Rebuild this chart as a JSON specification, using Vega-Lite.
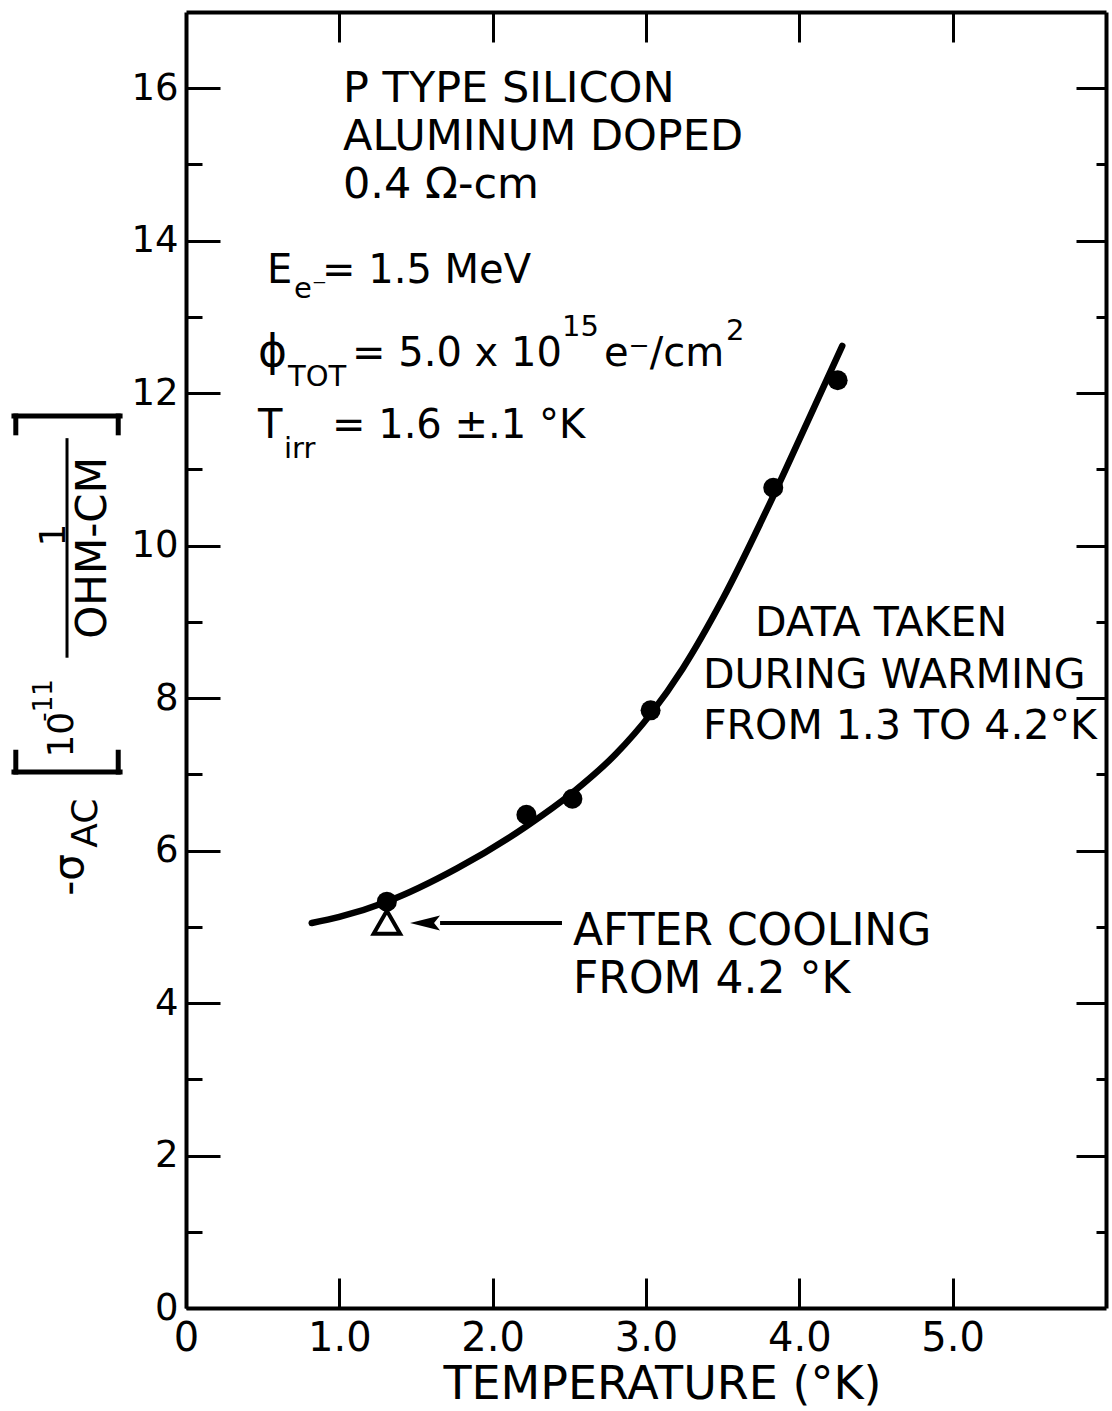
{
  "$schema": "https://vega.github.io/schema/vega-lite/v6.json",
  "width": 920,
  "height": 1296,
  "autosize": {"type": "none"},
  "padding": {"left": 186, "top": 12, "right": 6, "bottom": 103},
  "background": "white",
  "config": {"view": {"stroke": null}, "axis": {"grid": false}, "font": "DejaVu Sans"},
  "datasets": {
    "curve": [
      {"x": 0.82, "y": 5.05}, {"x": 1.0, "y": 5.13}, {"x": 1.31, "y": 5.33}, {"x": 1.77, "y": 5.77},
      {"x": 2.22, "y": 6.32}, {"x": 2.52, "y": 6.76}, {"x": 2.8, "y": 7.26}, {"x": 3.03, "y": 7.79},
      {"x": 3.24, "y": 8.39}, {"x": 3.5, "y": 9.3}, {"x": 3.83, "y": 10.65}, {"x": 4.05, "y": 11.61},
      {"x": 4.28, "y": 12.62}
    ],
    "dots": [
      {"x": 1.31, "y": 5.33}, {"x": 2.22, "y": 6.47}, {"x": 2.52, "y": 6.68},
      {"x": 3.03, "y": 7.84}, {"x": 3.83, "y": 10.76}, {"x": 4.25, "y": 12.17}
    ],
    "tri": [{"x": 1.31, "y": 5.06}],
    "shaft": [{"x": 1.657, "x2": 2.452, "y": 5.05}],
    "head": [{"x": 1.559, "y": 5.05}],
    "t43": [
      {"x": 1.024, "y": 15.82, "t": "P TYPE SILICON"},
      {"x": 1.024, "y": 15.19, "t": "ALUMINUM DOPED"},
      {"x": 1.024, "y": 14.56, "t": "0.4 Ω-cm"}
    ],
    "t40": [
      {"x": 0.528, "y": 13.44, "t": "E"},
      {"x": 0.887, "y": 13.44, "t": "= 1.5 MeV"},
      {"x": 1.083, "y": 12.36, "t": "= 5.0 x 10"},
      {"x": 2.726, "y": 12.36, "t": "e⁻/cm"},
      {"x": 0.47, "y": 11.41, "t": "T"},
      {"x": 0.952, "y": 11.41, "t": "= 1.6 ±.1 °K"}
    ],
    "tsub": [
      {"x": 0.704, "y": 13.25, "t": "e⁻"},
      {"x": 0.665, "y": 12.09, "t": "TOT"},
      {"x": 2.452, "y": 12.75, "t": "15"},
      {"x": 3.522, "y": 12.7, "t": "2"},
      {"x": 0.639, "y": 11.15, "t": "irr"}
    ],
    "tphi": [{"x": 0.47, "y": 12.36, "t": "ϕ"}],
    "t42": [
      {"x": 3.711, "y": 8.81, "t": "DATA TAKEN"},
      {"x": 3.372, "y": 8.13, "t": "DURING WARMING"},
      {"x": 3.372, "y": 7.46, "t": "FROM 1.3 TO 4.2°K"}
    ],
    "t44": [
      {"x": 2.524, "y": 4.76, "t": "AFTER COOLING"},
      {"x": 2.524, "y": 4.13, "t": "FROM 4.2 °K"}
    ],
    "ybig": [
      {"x": -0.757, "y": 5.68, "t": "-σ"}
    ],
    "ymid": [
      {"x": -0.652, "y": 6.36, "t": "AC"},
      {"x": -0.809, "y": 7.52, "t": "10"},
      {"x": -0.861, "y": 10.14, "t": "1"}
    ],
    "ywide": [
      {"x": -0.607, "y": 9.97, "t": "OHM-CM"}
    ],
    "ysup": [
      {"x": -0.926, "y": 7.97, "t": "-11"}
    ],
    "brackets": [
      {"x": -1.122, "x2": -0.43, "y": 7.03, "y2": 7.03},
      {"x": -1.11, "x2": -1.11, "y": 7.03, "y2": 7.29},
      {"x": -0.442, "x2": -0.442, "y": 7.03, "y2": 7.29},
      {"x": -1.122, "x2": -0.43, "y": 11.7, "y2": 11.7},
      {"x": -1.11, "x2": -1.11, "y": 11.7, "y2": 11.48},
      {"x": -0.442, "x2": -0.442, "y": 11.7, "y2": 11.48}
    ],
    "bar": [{"x": -0.776, "x2": -0.776, "y": 8.53, "y2": 11.41}]
  },
  "layer": [
    {
      "layer": [
        {
          "data": {"name": "curve"},
          "mark": {"type": "line", "interpolate": "monotone", "color": "black", "strokeWidth": 6.5, "strokeCap": "round"},
          "encoding": {
            "x": {"field": "x", "type": "quantitative", "scale": {"domain": [0, 6], "nice": false, "zero": false},
              "axis": {"orient": "bottom", "values": [0, 1, 2, 3, 4, 5], "tickSize": -30, "tickWidth": 3, "tickColor": "black",
                "domainColor": "black", "domainWidth": 4, "labelFontSize": 40, "labelFont": "DejaVu Sans", "labelColor": "black",
                "labelPadding": 40, "labelExpr": "datum.value == 0 ? '0' : format(datum.value, '.1f')", "labelFlush": false,
                "labelOverlap": false, "grid": false, "title": "TEMPERATURE (°K)", "titleFont": "DejaVu Sans", "titleFontSize": 46,
                "titleFontWeight": "normal", "titleColor": "black", "titlePadding": 4, "titleX": 476}},
            "y": {"field": "y", "type": "quantitative", "scale": {"domain": [0, 17], "nice": false, "zero": false},
              "axis": {"orient": "left", "values": [0, 1, 2, 3, 4, 5, 6, 7, 8, 9, 10, 11, 12, 13, 14, 15, 16],
                "tickSize": {"condition": {"test": "datum.value % 2 === 0", "value": -34}, "value": -16},
                "tickWidth": 3, "tickColor": "black", "domainColor": "black", "domainWidth": 4,
                "labelFontSize": 37, "labelFont": "DejaVu Sans", "labelColor": "black", "labelPadding": 42,
                "labelExpr": "datum.value % 2 === 0 ? format(datum.value, 'd') : ''", "labelFlush": false, "labelOverlap": false,
                "grid": false, "title": null}}
          }
        },
        {
          "data": {"name": "dots"},
          "mark": {"type": "point", "shape": "circle", "filled": true, "color": "black", "size": 400, "opacity": 1},
          "encoding": {"x": {"field": "x", "type": "quantitative"}, "y": {"field": "y", "type": "quantitative"}}
        },
        {
          "data": {"name": "tri"},
          "mark": {"type": "point", "shape": "triangle-up", "filled": false, "color": "black", "strokeWidth": 4, "size": 700, "opacity": 1},
          "encoding": {"x": {"field": "x", "type": "quantitative"}, "y": {"field": "y", "type": "quantitative"}}
        },
        {
          "data": {"name": "shaft"},
          "mark": {"type": "rule", "color": "black", "strokeWidth": 4},
          "encoding": {"x": {"field": "x", "type": "quantitative"}, "x2": {"field": "x2"}, "y": {"field": "y", "type": "quantitative"}}
        },
        {
          "data": {"name": "head"},
          "mark": {"type": "point", "shape": "M -1 0 L 1 -0.5 L 0.6 0 L 1 0.5 Z", "filled": true, "color": "black", "size": 900, "opacity": 1},
          "encoding": {"x": {"field": "x", "type": "quantitative"}, "y": {"field": "y", "type": "quantitative"}}
        },
        {
          "data": {"name": "t43"},
          "mark": {"type": "text", "align": "left", "baseline": "alphabetic", "fontSize": 43, "font": "DejaVu Sans", "color": "black"},
          "encoding": {"x": {"field": "x", "type": "quantitative"}, "y": {"field": "y", "type": "quantitative"}, "text": {"field": "t"}}
        },
        {
          "data": {"name": "t40"},
          "mark": {"type": "text", "align": "left", "baseline": "alphabetic", "fontSize": 40, "font": "DejaVu Sans", "color": "black"},
          "encoding": {"x": {"field": "x", "type": "quantitative"}, "y": {"field": "y", "type": "quantitative"}, "text": {"field": "t"}}
        },
        {
          "data": {"name": "tsub"},
          "mark": {"type": "text", "align": "left", "baseline": "alphabetic", "fontSize": 29, "font": "DejaVu Sans", "color": "black"},
          "encoding": {"x": {"field": "x", "type": "quantitative"}, "y": {"field": "y", "type": "quantitative"}, "text": {"field": "t"}}
        },
        {
          "data": {"name": "tphi"},
          "mark": {"type": "text", "align": "left", "baseline": "alphabetic", "fontSize": 44, "font": "DejaVu Sans", "color": "black"},
          "encoding": {"x": {"field": "x", "type": "quantitative"}, "y": {"field": "y", "type": "quantitative"}, "text": {"field": "t"}}
        },
        {
          "data": {"name": "t42"},
          "mark": {"type": "text", "align": "left", "baseline": "alphabetic", "fontSize": 41, "font": "DejaVu Sans", "color": "black"},
          "encoding": {"x": {"field": "x", "type": "quantitative"}, "y": {"field": "y", "type": "quantitative"}, "text": {"field": "t"}}
        },
        {
          "data": {"name": "t44"},
          "mark": {"type": "text", "align": "left", "baseline": "alphabetic", "fontSize": 44, "font": "DejaVu Sans", "color": "black"},
          "encoding": {"x": {"field": "x", "type": "quantitative"}, "y": {"field": "y", "type": "quantitative"}, "text": {"field": "t"}}
        },
        {
          "data": {"name": "ybig"},
          "mark": {"type": "text", "align": "center", "baseline": "middle", "angle": 270, "fontSize": 42, "font": "DejaVu Sans", "color": "black"},
          "encoding": {"x": {"field": "x", "type": "quantitative"}, "y": {"field": "y", "type": "quantitative"}, "text": {"field": "t"}}
        },
        {
          "data": {"name": "ymid"},
          "mark": {"type": "text", "align": "center", "baseline": "middle", "angle": 270, "fontSize": 36, "font": "DejaVu Sans", "color": "black"},
          "encoding": {"x": {"field": "x", "type": "quantitative"}, "y": {"field": "y", "type": "quantitative"}, "text": {"field": "t"}}
        },
        {
          "data": {"name": "ywide"},
          "mark": {"type": "text", "align": "center", "baseline": "middle", "angle": 270, "fontSize": 42, "font": "DejaVu Sans", "color": "black"},
          "encoding": {"x": {"field": "x", "type": "quantitative"}, "y": {"field": "y", "type": "quantitative"}, "text": {"field": "t"}}
        },
        {
          "data": {"name": "ysup"},
          "mark": {"type": "text", "align": "center", "baseline": "middle", "angle": 270, "fontSize": 26, "font": "DejaVu Sans", "color": "black"},
          "encoding": {"x": {"field": "x", "type": "quantitative"}, "y": {"field": "y", "type": "quantitative"}, "text": {"field": "t"}}
        },
        {
          "data": {"name": "brackets"},
          "mark": {"type": "rule", "color": "black", "strokeWidth": 5, "strokeCap": "square"},
          "encoding": {"x": {"field": "x", "type": "quantitative"}, "x2": {"field": "x2"}, "y": {"field": "y", "type": "quantitative"}, "y2": {"field": "y2"}}
        },
        {
          "data": {"name": "bar"},
          "mark": {"type": "rule", "color": "black", "strokeWidth": 3},
          "encoding": {"x": {"field": "x", "type": "quantitative"}, "x2": {"field": "x2"}, "y": {"field": "y", "type": "quantitative"}, "y2": {"field": "y2"}}
        }
      ]
    },
    {
      "data": {"name": "dots"},
      "mark": {"type": "point", "opacity": 0},
      "encoding": {
        "x": {"field": "x", "type": "quantitative", "scale": {"domain": [0, 6], "nice": false, "zero": false},
          "axis": {"orient": "top", "values": [1, 2, 3, 4, 5], "tickSize": -30, "tickWidth": 3, "tickColor": "black",
            "domainColor": "black", "domainWidth": 4, "labels": false, "grid": false, "title": null}},
        "y": {"field": "y", "type": "quantitative", "scale": {"domain": [0, 17], "nice": false, "zero": false},
          "axis": {"orient": "right", "values": [1, 2, 3, 4, 5, 6, 7, 8, 9, 10, 11, 12, 13, 14, 15, 16],
            "tickSize": {"condition": {"test": "datum.value % 2 === 0", "value": -30}, "value": -10},
            "tickWidth": 3, "tickColor": "black", "domainColor": "black", "domainWidth": 4, "labels": false, "grid": false, "title": null}}
      }
    }
  ],
  "resolve": {"scale": {"x": "independent", "y": "independent"}}
}
